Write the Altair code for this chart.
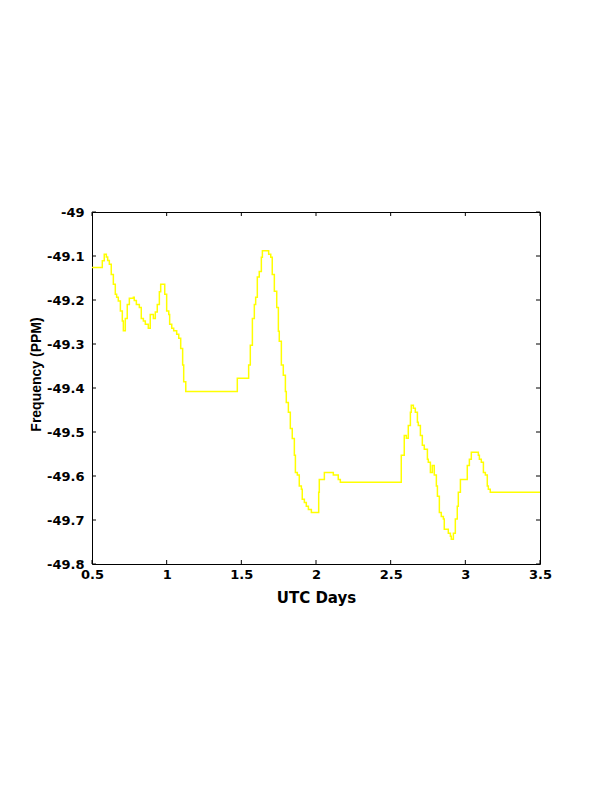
import altair as alt
import pandas as pd

# UTC day (start of each step) and frequency value (PPM)
utc_days = [0.500, 0.569, 0.582, 0.596, 0.605, 0.616, 0.629, 0.643, 0.656, 0.665,
            0.676, 0.690, 0.703, 0.710, 0.723, 0.736, 0.750, 0.777, 0.783, 0.797,
            0.817, 0.830, 0.844, 0.857, 0.877, 0.890, 0.911, 0.924, 0.937, 0.951,
            0.960, 0.987, 1.000, 1.014, 1.020, 1.034, 1.047, 1.067, 1.081, 1.094,
            1.107, 1.114, 1.128,
            1.473, 1.549, 1.560, 1.574, 1.587, 1.596, 1.607, 1.620, 1.634, 1.641,
            1.683, 1.697, 1.707, 1.721, 1.737, 1.748, 1.754, 1.768, 1.781, 1.795,
            1.801, 1.815, 1.828, 1.841, 1.855, 1.862, 1.875, 1.888, 1.902, 1.908,
            1.922, 1.935, 1.949, 1.969, 2.018, 2.022, 2.056, 2.116, 2.149, 2.163,
            2.571, 2.591, 2.605, 2.618, 2.632, 2.638, 2.652, 2.665, 2.679, 2.685,
            2.699, 2.712, 2.725, 2.746, 2.752, 2.766, 2.779, 2.792, 2.806, 2.813,
            2.826, 2.839, 2.853, 2.859, 2.886, 2.900, 2.906, 2.920, 2.933, 2.946,
            2.953, 2.967, 3.013, 3.027, 3.040, 3.087, 3.094, 3.107, 3.121, 3.134,
            3.147, 3.154, 3.167, 3.500]

frequency = [-49.126, -49.111, -49.096, -49.102, -49.110, -49.119, -49.142, -49.164, -49.187, -49.194,
             -49.202, -49.225, -49.248, -49.270, -49.242, -49.210, -49.196, -49.194, -49.201, -49.210,
             -49.217, -49.242, -49.248, -49.255, -49.264, -49.233, -49.242, -49.227, -49.210, -49.181,
             -49.164, -49.187, -49.225, -49.233, -49.255, -49.264, -49.270, -49.278, -49.287, -49.310,
             -49.348, -49.386, -49.408,
             -49.378, -49.348, -49.303, -49.242, -49.210, -49.194, -49.148, -49.135, -49.103, -49.088,
             -49.096, -49.103, -49.142, -49.180, -49.217, -49.271, -49.294, -49.348, -49.371, -49.408,
             -49.433, -49.455, -49.492, -49.515, -49.553, -49.592, -49.598, -49.623, -49.630, -49.653,
             -49.660, -49.669, -49.676, -49.683, -49.637, -49.608, -49.592, -49.598, -49.608, -49.614,
             -49.553, -49.508, -49.514, -49.485, -49.455, -49.439, -49.446, -49.455, -49.478, -49.485,
             -49.508, -49.530, -49.539, -49.562, -49.569, -49.592, -49.576, -49.598, -49.623, -49.646,
             -49.683, -49.692, -49.698, -49.721, -49.730, -49.737, -49.744, -49.730, -49.698, -49.669,
             -49.637, -49.608, -49.576, -49.562, -49.546, -49.553, -49.562, -49.569, -49.592, -49.598,
             -49.623, -49.630, -49.637, -49.637]

x_ticks = [0.5, 1.0, 1.5, 2.0, 2.5, 3.0, 3.5]
y_ticks = [-49.0, -49.1, -49.2, -49.3, -49.4, -49.5, -49.6, -49.7, -49.8]

W, H = 448, 352
LABEL_FONT = "DejaVu Sans"
YTITLE_FONT = "Liberation Sans"

df = pd.DataFrame({"day": utc_days, "freq": frequency})
dx = pd.DataFrame({"t": x_ticks})
dy = pd.DataFrame({"t": y_ticks})

xscale = alt.Scale(domain=[0.5, 3.5], nice=False, zero=False)
yscale = alt.Scale(domain=[-49.8, -49.0], nice=False, zero=False)

x_axis = alt.Axis(title="UTC Days", values=x_ticks, labelExpr="toString(datum.value)",
                  domain=False, ticks=False, grid=False, labelPadding=4,
                  labelFont=LABEL_FONT, labelFontSize=13, labelFontWeight="bold",
                  labelColor="black", labelFlush=False, labelOverlap=False,
                  titleFont=LABEL_FONT, titleFontSize=15, titleFontWeight="bold",
                  titleColor="black", titleBaseline="alphabetic", titleY=38)
y_axis = alt.Axis(title="Frequency (PPM)", values=y_ticks, labelExpr="toString(datum.value)",
                  domain=False, ticks=False, grid=False, labelPadding=8,
                  labelFont=LABEL_FONT, labelFontSize=13, labelFontWeight="bold",
                  labelColor="black", labelFlush=False, labelOverlap=False,
                  titleFont=YTITLE_FONT, titleFontSize=14, titleFontWeight="bold",
                  titleColor="black", titleBaseline="bottom", titleX=-49, titleY=162)

line = alt.Chart(df).mark_line(
    interpolate="step-after", color="#ffff00", strokeWidth=1.5
).encode(
    x=alt.X("day:Q", scale=xscale, axis=x_axis, title="UTC Days"),
    y=alt.Y("freq:Q", scale=yscale, axis=y_axis, title="Frequency (PPM)"),
)

tick_style = dict(color="black", strokeWidth=1)
xt_bottom = alt.Chart(dx).mark_rule(**tick_style).encode(
    x=alt.X("t:Q", scale=xscale, axis=x_axis, title="UTC Days"),
    y=alt.value(H), y2=alt.value(H - 4))
xt_top = alt.Chart(dx).mark_rule(**tick_style).encode(
    x=alt.X("t:Q", scale=xscale, axis=x_axis, title="UTC Days"),
    y=alt.value(0), y2=alt.value(4))
yt_left = alt.Chart(dy).mark_rule(**tick_style).encode(
    y=alt.Y("t:Q", scale=yscale, axis=y_axis, title="Frequency (PPM)"),
    x=alt.value(0), x2=alt.value(4))
yt_right = alt.Chart(dy).mark_rule(**tick_style).encode(
    y=alt.Y("t:Q", scale=yscale, axis=y_axis, title="Frequency (PPM)"),
    x=alt.value(W), x2=alt.value(W - 4))

chart = alt.layer(line, xt_bottom, xt_top, yt_left, yt_right).properties(
    width=W, height=H,
    padding={"left": 84, "top": 204, "right": 64, "bottom": 212},
    autosize=alt.AutoSizeParams(type="none"),
    background="white",
).configure_view(stroke="black", strokeWidth=1)

chart.save("out.html", embed_options={"renderer": "svg", "actions": False})
